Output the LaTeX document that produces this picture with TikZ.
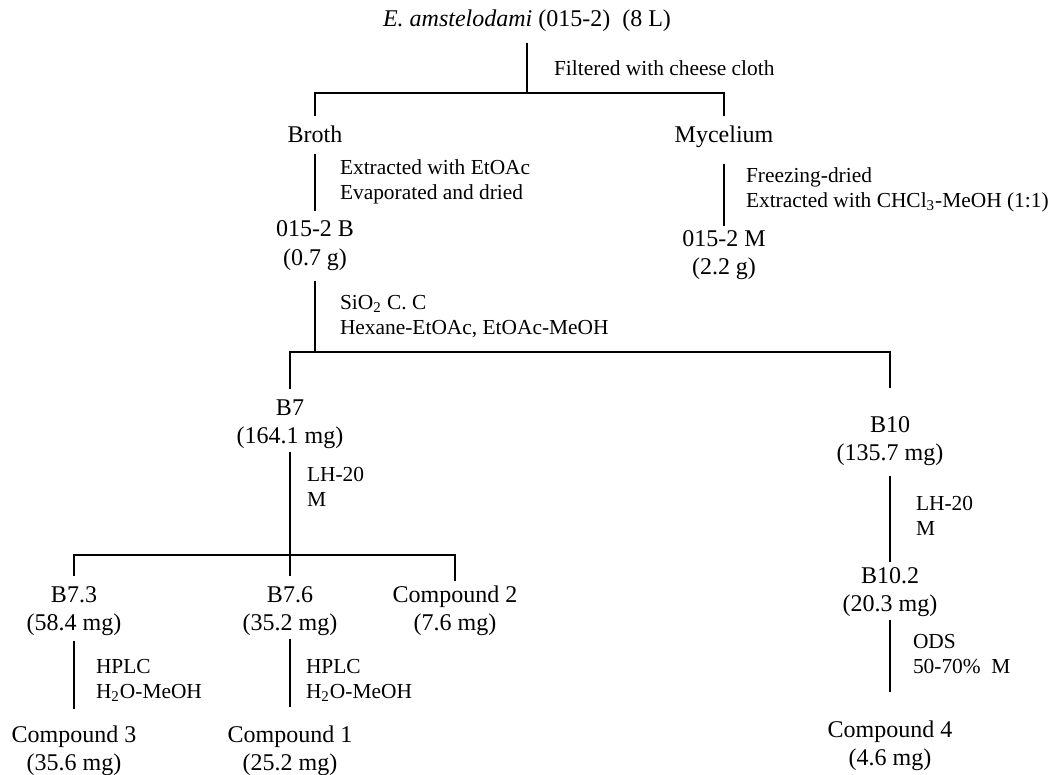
\documentclass[tikz,border=0pt]{standalone}
\usepackage{fontspec}
\setmainfont{Liberation Serif}
\begin{document}
\begin{tikzpicture}[x=0.5pt, y=-0.5pt,
    sample/.style={anchor=base, align=center, inner sep=5pt, font=\fontsize{12}{14}\selectfont},
    note/.style={anchor=west, align=left, inner sep=0pt, font=\fontsize{10.7}{12.5}\selectfont},
    link/.style={line width=1pt}
]
\useasboundingbox (0,0) rectangle (1049,775);

% Culture
\node[sample] (culture) at (527,27) {\textit{E. amstelodami} (015-2)~ (8 L)};
\node[sample] (broth) at (315,143) {Broth};
\node[sample] (myc) at (724,143) {Mycelium};
\node[sample] (extB) at (315,265) {015-2 B\\(0.7 g)};
\node[sample] (extM) at (724,275) {015-2 M\\(2.2 g)};

% Fractions
\node[sample] (b7) at (290,443) {B7\\(164.1 mg)};
\node[sample] (b10) at (890,460) {B10\\(135.7 mg)};
\node[sample] (b73) at (74,630) {B7.3\\(58.4 mg)};
\node[sample] (b76) at (290,630) {B7.6\\(35.2 mg)};
\node[sample] (cpd2) at (455,630) {Compound 2\\(7.6 mg)};
\node[sample] (b102) at (890,611) {B10.2\\(20.3 mg)};

% Compounds
\node[sample] (cpd3) at (74,770) {Compound 3\\(35.6 mg)};
\node[sample] (cpd1) at (290,770) {Compound 1\\(25.2 mg)};
\node[sample] (cpd4) at (890,765) {Compound 4\\(4.6 mg)};

% Junctions
\coordinate (j1) at (527,93);
\coordinate (j2) at (315,352);
\coordinate (j3) at (290,555);

% Filtering
\draw[link] (culture) -- (j1) node[note, midway, xshift=13pt] {Filtered with cheese cloth};
\draw[link] (broth) |- (j1) -| (myc);

% Extraction
\draw[link] (broth) -- (extB) node[note, midway, xshift=12pt] {Extracted with EtOAc\\Evaporated and dried};
\draw[link, shorten <=2.5pt, shorten >=-2.5pt] (myc) -- (extM)
    node[note, midway, xshift=10.5pt] {Freezing-dried\\Extracted with CHCl\textsubscript{3}-MeOH (1:1)};

% Column chromatography
\draw[link] (extB) -- (j2) node[note, midway, xshift=12pt] {SiO\textsubscript{2} C. C\\Hexane-EtOAc, EtOAc-MeOH};
\draw[link, shorten >=9pt] (b7) |- (j2) -| (b10);

% B7
\draw[link, shorten <=-3.5pt] (b7) -- (j3) node[note, pos=0.29, xshift=8pt] {LH-20\\M};
\draw[link, shorten >=-3pt] (b73) |- (j3) -| (cpd2);
\draw[link, shorten >=-3pt] (b76) -- (j3);
\draw[link, shorten <=-2.5pt, shorten >=3pt] (b73) -- (cpd3) node[note, midway, xshift=10.5pt] {HPLC\\H\textsubscript{2}O-MeOH};
\draw[link, shorten <=-3.5pt, shorten >=4pt] (b76) -- (cpd1) node[note, midway, xshift=7.5pt] {HPLC\\H\textsubscript{2}O-MeOH};

% B10
\draw[link, shorten >=-2.5pt] (b10) -- (b102) node[note, midway, xshift=12.5pt] {LH-20\\M};
\draw[link, shorten <=-3.5pt, shorten >=9pt] (b102) -- (cpd4) node[note, pos=0.33, xshift=11pt] {ODS\\50-70\%~ M};

\end{tikzpicture}
\end{document}
